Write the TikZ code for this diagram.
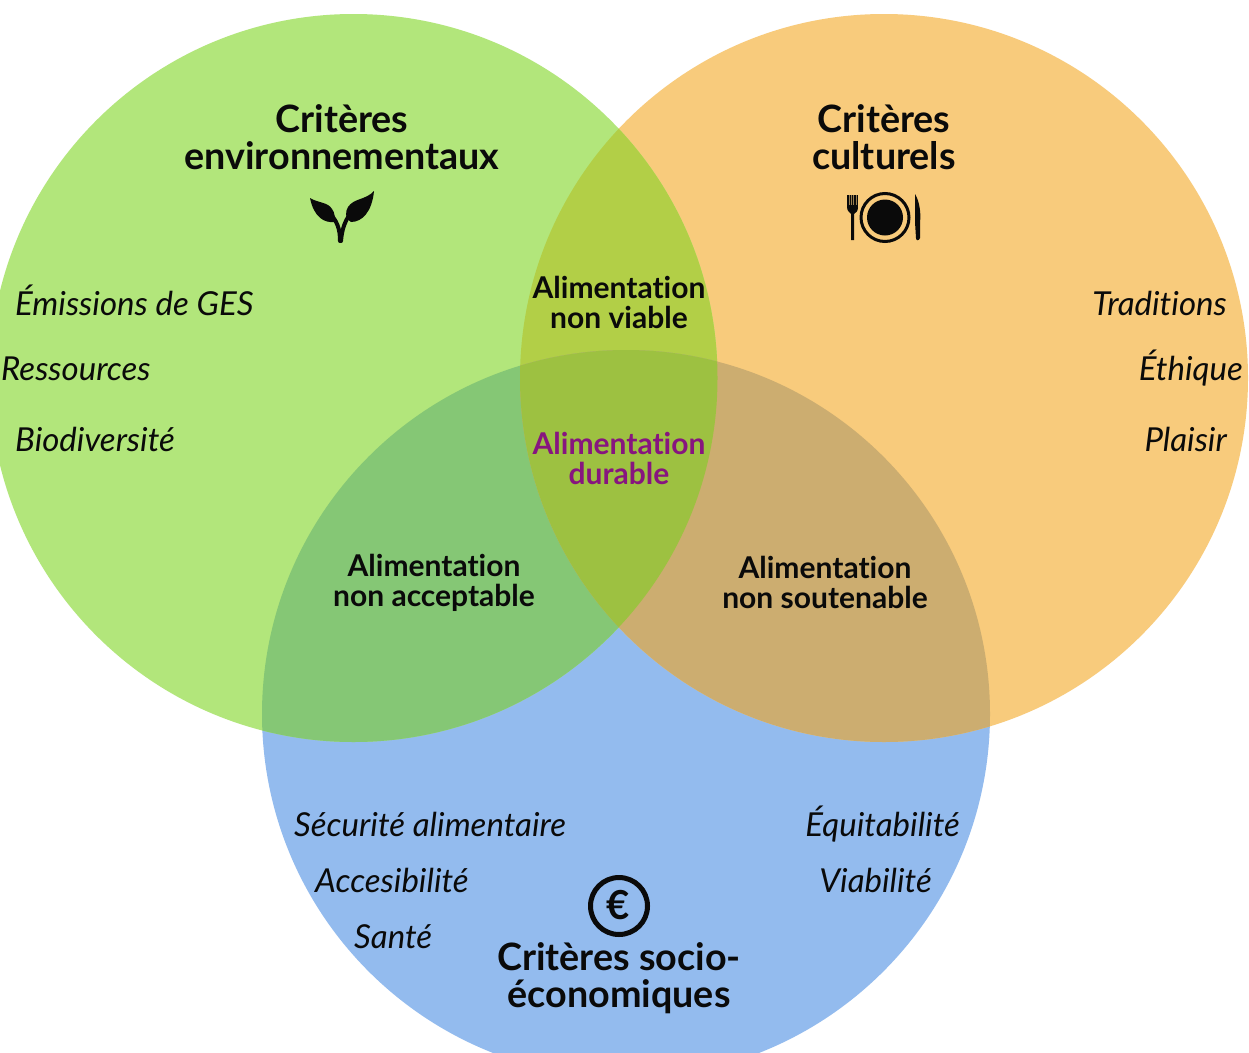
\documentclass[tikz,border=0pt]{standalone}
\usepackage{fontspec}
\setmainfont{Lato}[Ligatures=NoCommon]
\definecolor{cgreen}{HTML}{B2E67B}
\definecolor{corange}{HTML}{F8CB7C}
\definecolor{cblue}{HTML}{93BBEE}
\definecolor{cgo}{HTML}{B2CF47}
\definecolor{cgb}{HTML}{85C775}
\definecolor{cob}{HTML}{CCAD70}
\definecolor{ccenter}{HTML}{9DC141}
\definecolor{cpurple}{HTML}{87157F}
\definecolor{cink}{HTML}{0A0A0A}
\tikzset{
  head/.style={font=\fontsize{37.7}{37}\selectfont\bfseries,align=center,text=cink,inner sep=0pt},
  zone/.style={font=\fontsize{30}{30}\selectfont\bfseries,align=center,text=cink,inner sep=0pt},
  crit/.style={font=\fontsize{33}{34}\selectfont\itshape,text=cink,inner sep=0pt},
}
\begin{document}
\begin{tikzpicture}[x=1pt,y=-1pt]
\useasboundingbox (0,0) rectangle (1249,1052);
\clip (0,0) rectangle (1249,1052);
\fill[white] (0,0) rectangle (1249,1052);
\def\cG{(353.5,378) circle[radius=364pt]}
\def\cO{(884,378) circle[radius=364pt]}
\def\cB{(626,714) circle[radius=364pt]}
\fill[cblue] \cB;
\fill[corange] \cO;
\fill[cgreen] \cG;
\begin{scope}\clip \cG; \fill[cgo] \cO; \end{scope}
\begin{scope}\clip \cG; \fill[cgb] \cB; \end{scope}
\begin{scope}\clip \cO; \fill[cob] \cB; \end{scope}
\begin{scope}\clip \cG; \clip \cO; \fill[ccenter] \cB; \end{scope}

\node[head] (tenv) at (342,137) {Critères\\environnementaux};
\node[head] (tcul) at (884,137) {Critères\\culturels};
\node[head] (tsoc) at (619,978.5) {Critères socio-\\économiques};

\node[zone] (znv) at (619,302) {Alimentation\\non viable};
\node[zone,text=cpurple] (zd) at (619,458) {Alimentation\\durable};
\node[zone] (zna) at (434,583) {Alimentation\\non acceptable};
\node[zone] (zns) at (825,582.5) {Alimentation\\non soutenable};

\node[crit,anchor=base west] (a1) at (15,315) {Émissions de GES};
\node[crit,anchor=base west] (a2) at (1,380) {Ressources};
\node[crit,anchor=base west] (a3) at (15,451) {Biodiversité};
\node[crit,anchor=base east] (b1) at (1227,315) {Traditions};
\node[crit,anchor=base east] (b2) at (1243,380) {Éthique};
\node[crit,anchor=base east] (b3) at (1227,451) {Plaisir};
\node[crit,anchor=base west] (c1) at (294,836) {Sécurité alimentaire};
\node[crit,anchor=base west] (c2) at (315,892) {Accesibilité};
\node[crit,anchor=base west] (c3) at (354,948) {Santé};
\node[crit,anchor=base east] (d1) at (960,836) {Équitabilité};
\node[crit,anchor=base east] (d2) at (932,892) {Viabilité};

% plant icon
\fill[cink] (310,198) .. controls (318,203) and (328,202) .. (332,209) .. controls (335,213) and (335,217) .. (334,222) .. controls (325,223) and (314,218) .. (310,198) -- cycle;
\fill[cink] (374,191) .. controls (366,200) and (354,198) .. (348,207) .. controls (345,212) and (345,218) .. (351,222) .. controls (362,222) and (372,212) .. (374,191) -- cycle;
\draw[cink,line width=4pt,line cap=round] (340,241) .. controls (340,230) and (338,220) .. (326,210);
\draw[cink,line width=4pt,line cap=round] (341,241) .. controls (342,230) and (344,220) .. (356,206);

% plate icon
\fill[cink] (847,195) rectangle (858,208);
\foreach \x in {849,851.2,853.4,855.6} \fill[corange!60!cink] (\x,195) rectangle (\x+0.6,205);
\fill[cink] (847,207) .. controls (847,211) and (850,213) .. (851,214) -- (851,240) -- (854,240) -- (854,214) .. controls (856,213) and (858,211) .. (858,207) -- cycle;
\draw[cink,line width=3pt] (885,217.5) circle[radius=24pt];
\fill[cink] (885,217.5) circle[radius=18pt];
\fill[cink] (915,194) .. controls (920,202) and (921,215) .. (920,222) -- (920,238) .. controls (919,241) and (916,241) .. (916,238) -- (915,222) -- cycle;

% euro icon
\draw[cink,line width=5pt] (619,906) circle[radius=28.5pt];
\node[font=\fontsize{40}{40}\selectfont\bfseries,text=cink,inner sep=0pt] (euro) at (618,905) {€};
\end{tikzpicture}
\end{document}
